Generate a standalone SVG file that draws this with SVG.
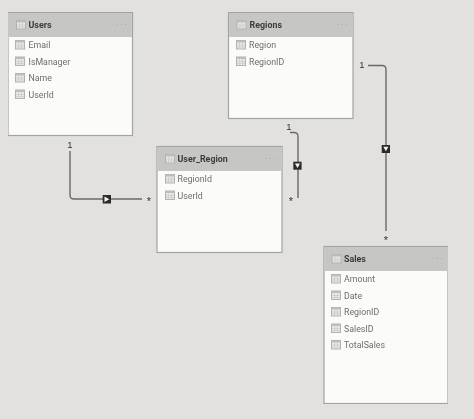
<svg xmlns="http://www.w3.org/2000/svg" xmlns:xlink="http://www.w3.org/1999/xlink" width="474" height="419" viewBox="0 0 474 419">
<style>
.card{fill:#fbfbfa;stroke:#a3a3a1;stroke-width:1.2}
.head{fill:#c6c6c5}
.title{font:bold 8.900px Roboto,"Liberation Sans",sans-serif;fill:#3c3c3c}
.field{font:8.800px Roboto,"Liberation Sans",sans-serif;fill:#6e6e6e}
.more{font:bold 8px "Liberation Sans",sans-serif;fill:#adadad;letter-spacing:2px}
.card-label{font:9.500px "Liberation Sans",sans-serif;fill:#333}
.many{font:11px "Liberation Sans",sans-serif;fill:#333}
.line{fill:none;stroke:#6a6a68;stroke-width:1.4}
.badge{fill:#2b2b2b}
.tri{fill:#f4f4f4}
</style>
<defs>
<filter id="soft" x="0" y="0" width="100%" height="100%"><feGaussianBlur stdDeviation="0.45"/></filter>
<g id="icon">
<rect x="0.500" y="0.500" width="9" height="8.500" fill="#e9e9e8" stroke="#b2b2b1" stroke-width="1"/>
<rect x="0.500" y="0.500" width="9" height="2" fill="#bdbdbc"/>
<path d="M3.500 3V9M6.500 3V9M1 5H9M1 7H9" fill="none" stroke="#cacac9" stroke-width="0.700"/>
</g>
</defs>
<rect width="474" height="419" fill="#e2e1df"/>
<g filter="url(#soft)">
<g id="connectors">
<path class="line" d="M70 151V195Q70 199 74 199H142"/>
<path class="line" d="M290 132.500H294Q298 132.500 298 136.500V198"/>
<path class="line" d="M368 65.500H382Q386 65.500 386 69.500V231"/>
<rect class="badge" x="102.700" y="195" width="8.300" height="8.500"/><path class="tri" d="M104.500 196.500L109.300 199.200L104.500 202Z"/>
<rect class="badge" x="293.300" y="161.700" width="8.300" height="8"/><path class="tri" d="M295 163.500H300L297.500 168Z"/>
<rect class="badge" x="381.700" y="145" width="8.300" height="8"/><path class="tri" d="M383.400 146.800H388.400L385.900 151.300Z"/>
<text class="card-label" x="70" y="148" text-anchor="middle">1</text>
<text class="many" x="149" y="205" text-anchor="middle">*</text>
<text class="card-label" x="289" y="130" text-anchor="middle">1</text>
<text class="many" x="291" y="205" text-anchor="middle">*</text>
<text class="card-label" x="362" y="68" text-anchor="middle">1</text>
<text class="many" x="386" y="244" text-anchor="middle">*</text>
</g>
<g id="users">
<rect class="card" x="8" y="12.500" width="124.500" height="123"/>
<rect class="head" x="8.600" y="13" width="123.300" height="24"/>
<use xlink:href="#icon" x="16" y="20"/>
<text class="title" x="28.500" y="28">Users</text>
<text class="more" x="116" y="25">...</text>
<use xlink:href="#icon" x="15" y="40"/><text class="field" x="28.500" y="48">Email</text>
<use xlink:href="#icon" x="15" y="56.500"/><text class="field" x="28.500" y="64.500">IsManager</text>
<use xlink:href="#icon" x="15" y="73"/><text class="field" x="28.500" y="81">Name</text>
<use xlink:href="#icon" x="15" y="89.500"/><text class="field" x="28.500" y="97.500">UserId</text>
</g>
<g id="regions">
<rect class="card" x="228.500" y="12.500" width="124.500" height="106"/>
<rect class="head" x="229.100" y="13" width="123.300" height="24"/>
<use xlink:href="#icon" x="236.500" y="20"/>
<text class="title" x="249.500" y="28">Regions</text>
<text class="more" x="337" y="25">...</text>
<use xlink:href="#icon" x="236" y="40"/><text class="field" x="249" y="48">Region</text>
<use xlink:href="#icon" x="236" y="56.500"/><text class="field" x="249" y="64.500">RegionID</text>
</g>
<g id="user_region">
<rect class="card" x="157" y="146.500" width="125" height="106"/>
<rect class="head" x="157.600" y="147" width="123.800" height="24"/>
<use xlink:href="#icon" x="165" y="154"/>
<text class="title" x="177.500" y="162">User_Region</text>
<text class="more" x="265" y="159">...</text>
<use xlink:href="#icon" x="165" y="174"/><text class="field" x="177.500" y="182">RegionId</text>
<use xlink:href="#icon" x="165" y="190.500"/><text class="field" x="177.500" y="198.500">UserId</text>
</g>
<g id="sales">
<rect class="card" x="324" y="246.500" width="124" height="157"/>
<rect class="head" x="324.600" y="247" width="122.800" height="24"/>
<use xlink:href="#icon" x="331.500" y="254"/>
<text class="title" x="344" y="262">Sales</text>
<text class="more" x="432" y="259">...</text>
<use xlink:href="#icon" x="331" y="274"/><text class="field" x="344" y="282">Amount</text>
<use xlink:href="#icon" x="331" y="290.500"/><text class="field" x="344" y="298.500">Date</text>
<use xlink:href="#icon" x="331" y="307"/><text class="field" x="344" y="315">RegionID</text>
<use xlink:href="#icon" x="331" y="323.500"/><text class="field" x="344" y="331.500">SalesID</text>
<use xlink:href="#icon" x="331" y="340"/><text class="field" x="344" y="348">TotalSales</text>
</g>
</g>
</svg>
